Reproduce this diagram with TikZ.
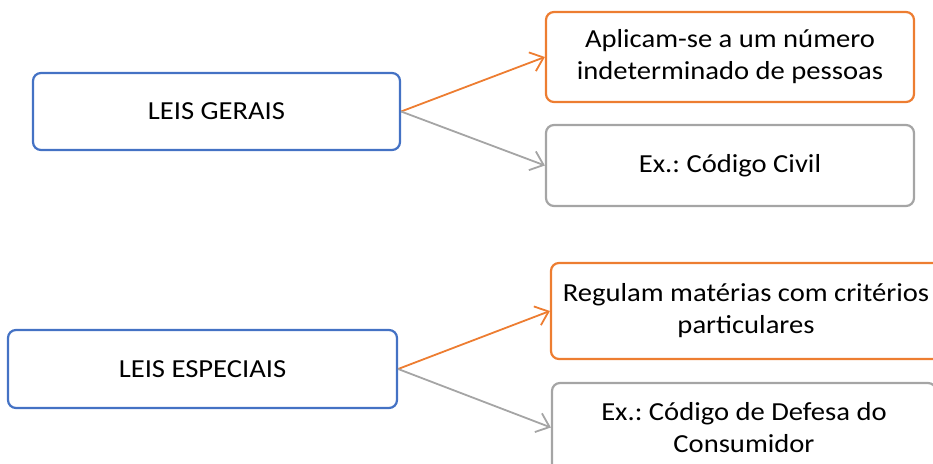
\documentclass[tikz,border=0pt]{standalone}
\usepackage{fontspec}
\setmainfont{Carlito}[FakeStretch=1.1]
\usetikzlibrary{arrows.meta}
\definecolor{azul}{HTML}{4472C4}
\definecolor{laranja}{HTML}{ED7D31}
\definecolor{cinza}{HTML}{A5A5A5}
\frenchspacing
\begin{document}
\begin{tikzpicture}[x=1bp,y=-1bp,line join=round,
    caixa/.style={draw=#1,rounded corners=8bp,line width=2.2bp,text=black,align=center,inner sep=0pt,
      font=\fontsize{26bp}{32bp}\selectfont},
    seta/.style={draw=#1,-{Straight Barb[length=12bp,width=20bp]},line width=1.8bp}]
    \useasboundingbox (0,0) rectangle (933,464);
    \clip (0,0) rectangle (933,464);
    % leis gerais
    \node[caixa=azul,minimum width=367bp,minimum height=77bp] (gerais) at (216.5,111.5) {LEIS GERAIS};
    \node[caixa=laranja,minimum width=368bp,minimum height=90bp] (aplicam) at (730,57) {Aplicam-se a um número\\indeterminado de pessoas};
    \node[caixa=cinza,minimum width=368bp,minimum height=81bp] (civil) at (730,165.5) {Ex.: Código Civil};
    \draw[seta=laranja] (gerais.east) -- (aplicam.west);
    \draw[seta=cinza] (gerais.east) -- (civil.west);
    % leis especiais
    \node[caixa=azul,minimum width=389bp,minimum height=78bp] (especiais) at (202.5,369) {LEIS ESPECIAIS};
    \node[caixa=laranja,minimum width=390bp,minimum height=96bp] (regulam) at (746,311) {Regulam matérias com critérios\\particulares};
    \node[caixa=cinza,minimum width=384bp,minimum height=89bp] (consumidor) at (744,427.5) {Ex.: Código de Defesa do\\Consumidor};
    \draw[seta=laranja] (especiais.east) -- (regulam.west);
    \draw[seta=cinza] (especiais.east) -- (consumidor.west);
\end{tikzpicture}
\end{document}
